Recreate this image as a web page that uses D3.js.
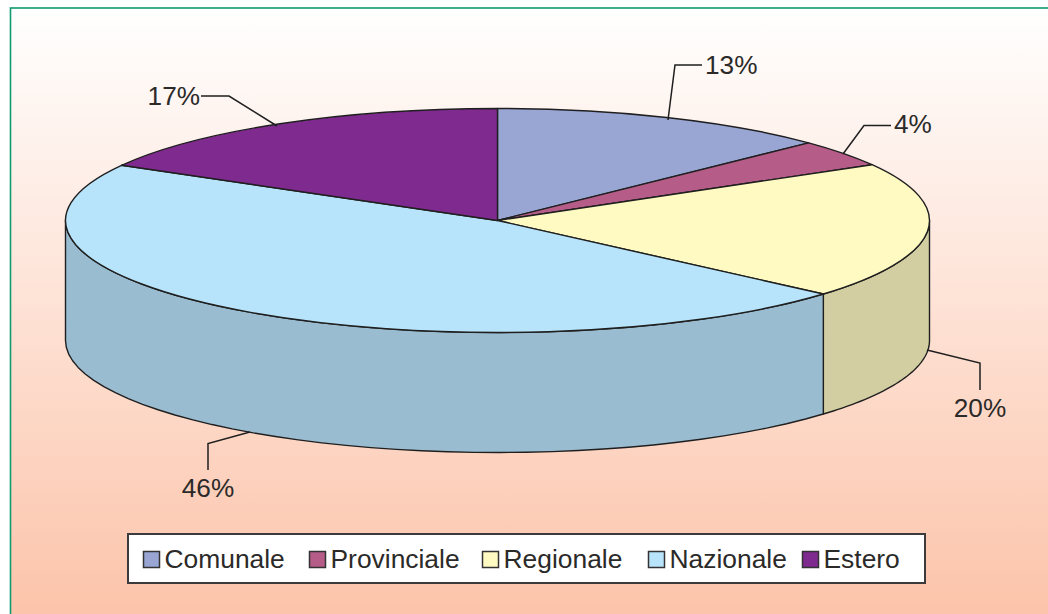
<!DOCTYPE html>
<html><head><meta charset="utf-8">
<script src="https://cdn.jsdelivr.net/npm/d3@7/dist/d3.min.js"></script>
<style>html,body{margin:0;padding:0;background:#fff}svg{display:block}text{font-family:"Liberation Sans",Arial,sans-serif;fill:#2b2a29}</style>
</head><body><svg id="c" width="1048" height="614"></svg>
<script>
const categories = ["Comunale","Provinciale","Regionale","Nazionale","Estero"];
const shares = [12.8,3.9,19.7,46.8,16.8];
const shareLabels = ["13%","4%","20%","46%","17%"];
const topColors = ["#99a6d4","#b55c88","#fffac2","#b8e4fb","#7f2a8e"];
const sideColors = ["#7f8ab0","#964c71","#d2cea2","#9abcd0","#692375"];

const W=1048,H=614, cx=497.5, cy=220.5, rx=432, ry=112, depth=120;
const svg=d3.select("#c");
const defs=svg.append("defs");
const g=defs.append("linearGradient").attr("id","bg").attr("x1",0).attr("x2",0).attr("y1",0).attr("y2",1);
g.append("stop").attr("offset",0).attr("stop-color","#ffffff");
g.append("stop").attr("offset",1).attr("stop-color","#fcc3a9");

svg.append("rect").attr("x",10.5).attr("y",8).attr("width",W).attr("height",H).attr("fill","url(#bg)").attr("stroke","#109a70").attr("stroke-width",1.6);

const pie=d3.pie().sort(null).value(d=>d)(shares);
const pt=(a,dy=0)=>[cx+rx*Math.sin(a),cy-ry*Math.cos(a)+dy];
const lw=1.4, stroke="#1f1f1f";

// side walls (front half only)
const lo=Math.PI/2, hi=3*Math.PI/2;
const wall=d3.line().curve(d3.curveLinear);
const sample=(a0,a1,dy)=>d3.range(0,41).map(i=>pt(a0+(a1-a0)*i/40,dy));
pie.forEach((p,i)=>{
  const a0=Math.max(p.startAngle,lo), a1=Math.min(p.endAngle,hi);
  if(a1<=a0) return;
  svg.append("path").attr("d",wall([...sample(a0,a1,0),...sample(a1,a0,depth)])+"Z")
    .attr("fill",sideColors[i]).attr("stroke",stroke).attr("stroke-width",lw).attr("stroke-linejoin","round");
});

// top face
const arc=d3.arc().innerRadius(0).outerRadius(rx);
svg.append("g").attr("transform",`translate(${cx},${cy}) scale(1,${ry/rx})`)
  .selectAll("path").data(pie).join("path")
  .attr("d",arc).attr("fill",(d,i)=>topColors[i])
  .attr("stroke",stroke).attr("stroke-width",lw).attr("vector-effect","non-scaling-stroke").attr("stroke-linejoin","round");

// leader lines and labels
const leaders=[
 {from:[668,120],elbow:[675,65],to:[702,65],tx:705,ty:74,anchor:"start"},
 {from:[843,154],elbow:[864,125.5],to:[891,125.5],tx:894,ty:133,anchor:"start"},
 {from:[927,350],elbow:[980,363],to:[980,390],tx:980,ty:417,anchor:"middle"},
 {from:[250,432],elbow:[208,443.5],to:[208,470],tx:208,ty:497,anchor:"middle"},
 {from:[277,126],elbow:[229,96],to:[201,96],tx:200,ty:105,anchor:"end"}
];
leaders.forEach((l,i)=>{
  svg.append("path").attr("d",d3.line()([l.from,l.elbow,l.to])).attr("fill","none").attr("stroke",stroke).attr("stroke-width",1.5);
  svg.append("text").attr("x",l.tx).attr("y",l.ty).attr("text-anchor",l.anchor).attr("font-size",26.2).text(shareLabels[i]);
});

// legend
svg.append("rect").attr("x",128).attr("y",534).attr("width",797).attr("height",49).attr("fill","#fff").attr("stroke","#3c3a3a").attr("stroke-width",2);
const swX=[143,309,482,648,802];
categories.forEach((c,i)=>{
  svg.append("rect").attr("x",swX[i]+.5).attr("y",551.5).attr("width",16).attr("height",16).attr("fill",topColors[i]).attr("stroke","#333").attr("stroke-width",1.5);
  svg.append("text").attr("x",swX[i]+21.5).attr("y",568).attr("font-size",26.4).text(c);
});
</script></body></html>
